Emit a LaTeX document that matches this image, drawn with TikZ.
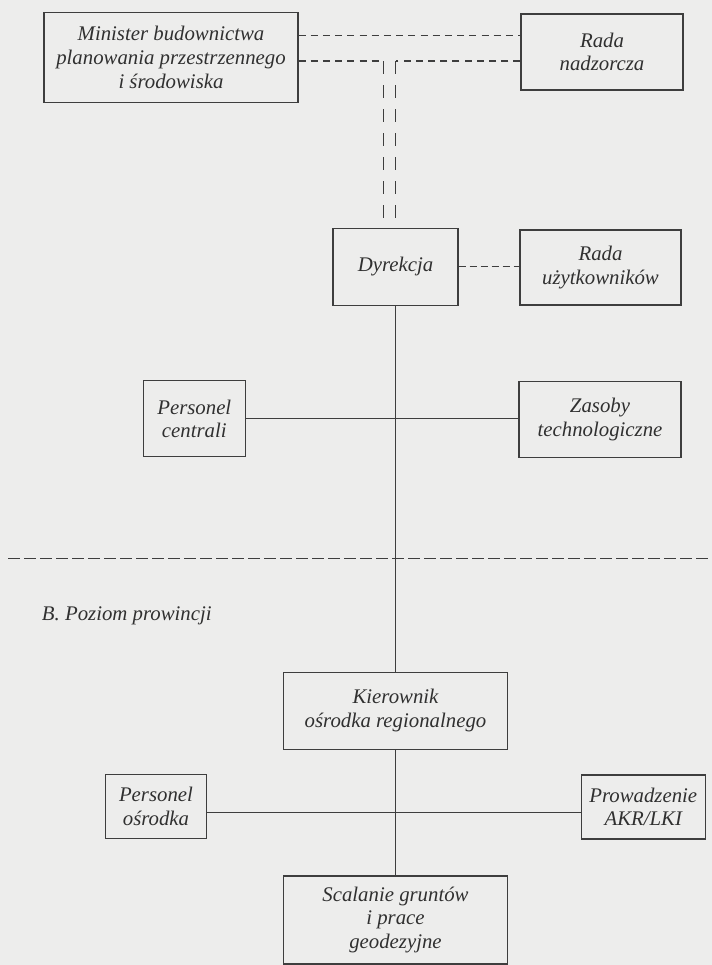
\documentclass[tikz,border=0pt]{standalone}
\usepackage{fontspec}
\setmainfont{Liberation Serif}
\definecolor{paper}{RGB}{237,237,236}
\definecolor{ink}{RGB}{48,48,48}
\definecolor{rule}{RGB}{62,62,62}
\begin{document}
\begin{tikzpicture}[x=0.75pt,y=-0.75pt,
    orgbox/.style={draw=rule,line width=0.8pt,text=ink,align=center,inner sep=0pt,
        font=\fontsize{15.6}{17.8}\selectfont\itshape},
    dshort/.style={draw=rule,line width=0.8pt,dash pattern=on 5.25pt off 3.9pt},
    dvert/.style={draw=rule,line width=0.8pt,dash pattern=on 9.75pt off 8.25pt},
    dsep/.style={draw=rule,line width=0.8pt,dash pattern=on 8.75pt off 3.25pt},
    solid line/.style={draw=rule,line width=0.8pt}]
        %% Page
        \fill[paper] (0,0) rectangle (712,965);
        \useasboundingbox (0,0) rectangle (712,965);
        %% Central level
        \node[orgbox,minimum width=190.5pt,minimum height=67pt] (mbp) at (171,57.4)
            {Minister budownictwa\\planowania przestrzennego\\i środowiska};
        \node[orgbox,minimum width=121.5pt,minimum height=57pt] (rn) at (602,52) {Rada\\nadzorcza};
        \node[orgbox,minimum width=93.75pt,minimum height=57.5pt] (dyr) at (395.5,266.7) {Dyrekcja};
        \node[orgbox,minimum width=120.75pt,minimum height=56.25pt] (ru) at (600.5,267.5) {Rada\\użytkowników};
        \node[orgbox,minimum width=76.1pt,minimum height=57.2pt] (pc) at (194.3,418.8) {Personel\\centrali};
        \node[orgbox,minimum width=121.5pt,minimum height=57pt] (zt) at (600,419.3) {Zasoby\\technologiczne};
        %% Provincial level
        \node[orgbox,minimum width=168.4pt,minimum height=57.5pt] (kor) at (395.5,710.7)
            {Kierownik\\ośrodka regionalnego};
        \node[orgbox,minimum width=76.1pt,minimum height=48.2pt] (po) at (156,806.2) {Personel\\ośrodka};
        \node[orgbox,minimum width=93.4pt,minimum height=48pt] (akr) at (643.3,807) {Prowadzenie\\AKR/LKI};
        \node[orgbox,minimum width=168.4pt,minimum height=66pt] (sg) at (395.5,920)
            {Scalanie gruntów\\i prace\\geodezyjne};
        \node[text=ink,inner sep=0pt,anchor=base west,font=\fontsize{15.6}{17.8}\selectfont\itshape]
            (lvl) at (41.7,620.7) {B. Poziom prowincji};
        %% Dashed links at the top
        \coordinate (t1) at (0,35.2);
        \coordinate (kl) at (383.3,61);
        \coordinate (kr) at (395.7,61);
        \draw[dshort] (mbp.east |- t1) -- (rn.west |- t1);
        \draw[dshort] (mbp.east |- kl) -- (kl);
        \draw[dshort] (rn.west |- kr) -- (kr);
        \foreach \k in {kl,kr} {
            \draw[dvert] (\k) -- (\k |- dyr.north);
        }
        \draw[dshort,dash pattern=on 5.25pt off 3pt] (dyr.east) -- (dyr.east -| ru.west);
        %% Solid links
        \draw[solid line] (pc.east) -- (pc.east -| zt.west);
        \draw[solid line] (dyr.south) -- (kor.north);
        \draw[solid line] (kor.south) -- (sg.north);
        \coordinate (h2) at (0,812.3);
        \draw[solid line] (po.east |- h2) -- (akr.west |- h2);
        %% Level separator
        \coordinate (sl) at (8,558.3);
        \coordinate (sr) at (712,558.3);
        \draw[dsep] (sl) -- (sr);
    \end{tikzpicture}
\end{document}
